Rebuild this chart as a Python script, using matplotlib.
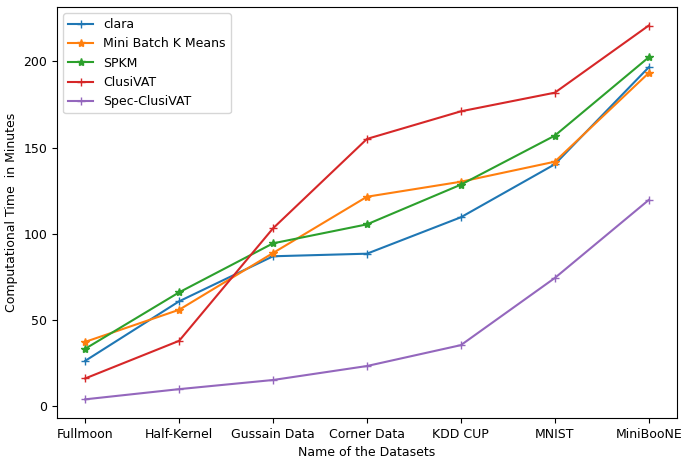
import matplotlib
matplotlib.use("Agg")
from matplotlib import pyplot as plt

datasets = ["Fullmoon", "Half-Kernel", "Gussain Data", "Corner Data",
            "KDD CUP", "MNIST", "MiniBooNE"]

clara = [26.4, 60.9, 87.0, 88.5, 109.6, 140.3, 196.5]
mini_batch = [37.4, 56.0, 88.9, 121.5, 130.2, 141.8, 193.2]
spkm = [33.4, 66.1, 94.5, 105.5, 128.5, 156.9, 202.3]
clusivat = [16.2, 38.0, 103.2, 155.0, 171.0, 181.8, 220.7]
spec_clusivat = [4.1, 10.0, 15.3, 23.4, 35.5, 74.4, 119.6]

fig = plt.figure(figsize=(6.83, 4.59), dpi=100)
ax = fig.add_axes([0.0835, 0.0893, 0.9075, 0.8957])

ax.plot(datasets, clara, marker='+', markersize=6, label='clara')
ax.plot(datasets, mini_batch, marker='*', markersize=6, label='Mini Batch K Means')
ax.plot(datasets, spkm, marker='*', markersize=6, label='SPKM')
ax.plot(datasets, clusivat, marker='+', markersize=6, label='ClusiVAT')
ax.plot(datasets, spec_clusivat, marker='+', markersize=6, label='Spec-ClusiVAT')

ax.set_xlabel("Name of the Datasets", fontsize=9)
ax.set_ylabel("Computational Time  in Minutes", fontsize=9)
ax.tick_params(labelsize=9)
ax.legend(loc='upper left', fontsize=9)

fig.savefig("out.png", dpi=100)
